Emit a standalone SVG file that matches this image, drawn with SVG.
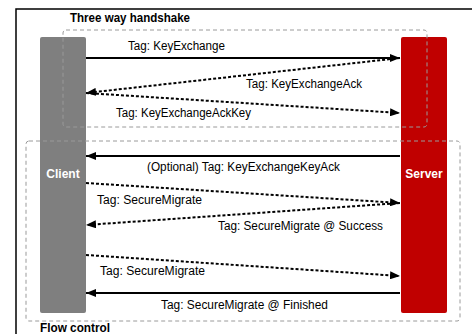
<svg xmlns="http://www.w3.org/2000/svg" width="472" height="334" viewBox="0 0 472 334">
<defs>
<style>
.lbl{font-family:"Liberation Sans",Arial,sans-serif;font-size:12px;fill:#000}
.ttl{font-family:"Liberation Sans",Arial,sans-serif;font-size:12px;font-weight:bold;fill:#000}
.nm{font-family:"Liberation Sans",Arial,sans-serif;font-size:12px;font-weight:bold;fill:#fff}
.solid{stroke:#000;stroke-width:2;fill:none}
.dot{stroke:#000;stroke-width:2;fill:none;stroke-dasharray:3 2}
.grp{fill:none;stroke:#9a9a9a;stroke-width:1;stroke-dasharray:4 3}
</style>
<marker id="ah" viewBox="0 0 10 8" refX="10" refY="4" markerWidth="10" markerHeight="8" markerUnits="userSpaceOnUse" orient="auto">
<path d="M0,0 L10,4 L0,8 z" fill="#000"/>
</marker>
</defs>
<rect x="0" y="0" width="472" height="334" fill="#fff"/>
<rect x="16" y="9" width="470" height="340" fill="none" stroke="#000" stroke-width="1.5"/>
<g id="client">
<rect x="40" y="37" width="46" height="276" rx="2" fill="#7f7f7f"/>
<text class="nm" x="63" y="178" text-anchor="middle">Client</text>
</g>
<g id="server">
<rect x="401" y="37" width="46" height="276" rx="2" fill="#c00000"/>
<text class="nm" x="424" y="178" text-anchor="middle">Server</text>
</g>
<g id="handshake">
<rect class="grp" x="63" y="30" width="364" height="97" rx="3"/>
<text class="ttl" x="70" y="22" textLength="120" lengthAdjust="spacingAndGlyphs">Three way handshake</text>
</g>
<g id="flowcontrol">
<rect class="grp" x="26" y="141" width="434" height="180" rx="3"/>
<text class="ttl" x="40" y="332" textLength="70" lengthAdjust="spacingAndGlyphs">Flow control</text>
</g>
<g id="connectors">
<line class="solid" x1="86" y1="58" x2="400" y2="58" marker-end="url(#ah)"/>
<line class="dot" x1="400" y1="58" x2="86" y2="93" marker-end="url(#ah)"/>
<line class="dot" x1="86" y1="93" x2="400" y2="113" marker-end="url(#ah)"/>
<line class="solid" x1="400" y1="156" x2="86" y2="156" marker-end="url(#ah)"/>
<line class="dot" x1="86" y1="183" x2="400" y2="203" marker-end="url(#ah)"/>
<line class="dot" x1="400" y1="203" x2="86" y2="225" marker-end="url(#ah)"/>
<line class="dot" x1="86" y1="255" x2="400" y2="276" marker-end="url(#ah)"/>
<line class="solid" x1="400" y1="293" x2="86" y2="293" marker-end="url(#ah)"/>
<text class="lbl" x="128" y="50" textLength="97" lengthAdjust="spacingAndGlyphs">Tag: KeyExchange</text>
<text class="lbl" x="246" y="88" textLength="116" lengthAdjust="spacingAndGlyphs">Tag: KeyExchangeAck</text>
<text class="lbl" x="116" y="117" textLength="135" lengthAdjust="spacingAndGlyphs">Tag: KeyExchangeAckKey</text>
<text class="lbl" x="147" y="171" textLength="193" lengthAdjust="spacingAndGlyphs">(Optional) Tag: KeyExchangeKeyAck</text>
<text class="lbl" x="97" y="204" textLength="105" lengthAdjust="spacingAndGlyphs">Tag: SecureMigrate</text>
<text class="lbl" x="218" y="230" textLength="165" lengthAdjust="spacingAndGlyphs">Tag: SecureMigrate @ Success</text>
<text class="lbl" x="100" y="275" textLength="105" lengthAdjust="spacingAndGlyphs">Tag: SecureMigrate</text>
<text class="lbl" x="161" y="309" textLength="167" lengthAdjust="spacingAndGlyphs">Tag: SecureMigrate @ Finished</text>
</g>
</svg>
